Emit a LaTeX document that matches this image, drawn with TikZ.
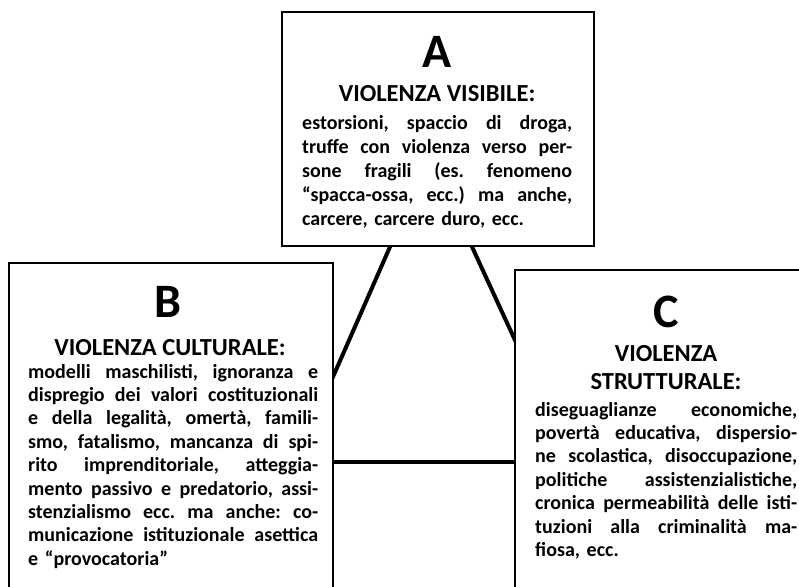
\documentclass[tikz,border=0pt]{standalone}
\usepackage{fontspec}
\setmainfont{Carlito}
\usetikzlibrary{calc,backgrounds}
\lineskiplimit=-20pt
\newlength\bodyw
\newcommand\jline[1]{\leavevmode\hbox to \bodyw{\spaceskip=0.226em plus 1fil\relax\xspaceskip=\spaceskip #1}}
\begin{document}
\begin{tikzpicture}[x=1pt,y=-1pt,
  boxframe/.style={draw=black, line width=1.8pt, fill=white, inner sep=0pt, anchor=north west},
  link/.style={draw=black, line width=4pt, shorten <=-6pt, shorten >=-6pt},
  bigletter/.style={anchor=base, inner sep=0pt, font=\fontsize{48}{48}\selectfont\bfseries},
  heading/.style={anchor=base, inner sep=0pt, font=\fontsize{24.5}{28}\selectfont\bfseries},
  bodytext/.style={anchor=base west, inner sep=0pt, align=left,
    font=\fontsize{20}{23.4}\selectfont\bfseries\frenchspacing},
]
\useasboundingbox (0,0) rectangle (799,586);
\clip (0,0) rectangle (799,586);

% boxes
\node[boxframe, minimum width=312pt, minimum height=234pt] (A) at (281,11) {};
\node[boxframe, minimum width=324pt, minimum height=400pt] (B) at (8,262) {};
\node[boxframe, minimum width=320pt, minimum height=400pt] (C) at (514,269) {};

% box A
\node[bigletter] (Aletter) at (437,67) {A};
\node[heading] (Ahead) at (437,101) {VIOLENZA VISIBILE:};
\node[bodytext, text width=270pt, font=\fontsize{20}{24.2}\selectfont\bfseries\frenchspacing] (Abody) at (302,129) {%
\setlength\bodyw{270pt}%
\jline{estorsioni, spaccio di droga,}\\
\jline{truffe con violenza verso per-}\\
\jline{sone fragili (es. fenomeno}\\
\jline{“spacca-ossa, ecc.) ma anche,}\\
carcere, carcere duro, ecc.};

% box B
\node[bigletter] (Bletter) at (168,317) {B};
\node[heading] (Bhead) at (170,355) {VIOLENZA CULTURALE:};
\node[bodytext, text width=290pt] (Bbody) at (28,378) {%
\setlength\bodyw{290pt}%
\jline{modelli maschilisti, ignoranza e}\\
\jline{dispregio dei valori costituzionali}\\
\jline{e della legalità, omertà, famili-}\\
\jline{smo, fatalismo, mancanza di spi-}\\
\jline{rito imprenditoriale, atteggia-}\\
\jline{mento passivo e predatorio, assi-}\\
\jline{stenzialismo ecc. ma anche: co-}\\
\jline{municazione istituzionale asettica}\\
e “provocatoria”};

% box C
\node[bigletter] (Cletter) at (666,327) {C};
\node[heading] (Chead1) at (666,361) {VIOLENZA};
\node[heading] (Chead2) at (666,389) {STRUTTURALE:};
\node[bodytext, text width=262pt] (Cbody) at (535,416) {%
\setlength\bodyw{262pt}%
\jline{diseguaglianze economiche,}\\
\jline{povertà educativa, dispersio-}\\
\jline{ne scolastica, disoccupazione,}\\
\jline{politiche assistenzialistiche,}\\
\jline{cronica permeabilità delle isti-}\\
\jline{tuzioni alla criminalità ma-}\\
fiosa, ecc.};

% connectors
\begin{scope}[on background layer]
\fill[white] (0,0) rectangle (799,586);
\draw[link] ($(A.south west)+(109,0)$) coordinate (a1) -- ($(B.north east)+(0,113)$) coordinate (b1);
\draw[link] ($(A.south west)+(191,0)$) coordinate (a2) -- ($(C.north west)+(0,69)$) coordinate (c1);
\draw[link] ($(B.north east)+(0,200)$) coordinate (b2) -- ($(C.north west)+(0,193)$) coordinate (c2);
\end{scope}
\end{tikzpicture}
\end{document}
